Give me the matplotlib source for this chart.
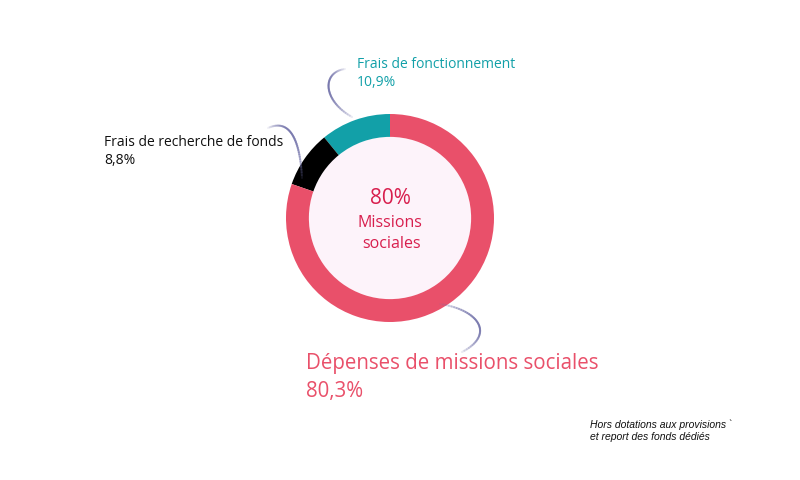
import matplotlib.pyplot as plt
from matplotlib.patches import Circle
import numpy as np

# share of expenses, drawn from 12 o'clock counter-clockwise
CATEGORIES = ["Frais de fonctionnement", "Frais de recherche de fonds", "Dépenses de missions sociales"]
SHARES = [10.9, 8.8, 80.3]
SHARE_LABELS = ["10,9%", "8,8%", "80,3%"]
COLORS = ["#12A0A8", "#000000", "#E9506A"]
CENTER_LINES = ["80%", "Missions", "sociales"]
NOTE = "Hors dotations aux provisions `\net report des fonds dédiés"

W, H = 800, 480
FONT = ["Open Sans", "DejaVu Sans"]


def py(y):
    # pixel row (top-down) to data y (bottom-up)
    return H - y


def connector(ax, pts):
    # cubic bezier with a soft fade along its length
    p0, p1, p2, p3 = [np.array([x, py(y)], dtype=float) for x, y in pts]
    t = np.linspace(0, 1, 40)[:, None]
    curve = (1 - t) ** 3 * p0 + 3 * (1 - t) ** 2 * t * p1 + 3 * (1 - t) * t ** 2 * p2 + t ** 3 * p3
    n = len(curve) - 1
    for i in range(n):
        a = 0.1 + 0.6 * np.sin(np.pi * i / n)
        ax.plot(curve[i:i + 2, 0], curve[i:i + 2, 1], color="#6F6FA8", lw=1.5,
                alpha=a, solid_capstyle="round", zorder=1)


fig = plt.figure(figsize=(W / 100, H / 100), dpi=100)
ax = fig.add_axes([0, 0, 1, 1])

cx, cy, r = 390, py(218), 104
ax.pie(SHARES, colors=COLORS, startangle=90, counterclock=True, center=(cx, cy),
       radius=r, wedgeprops=dict(width=r * 0.22, edgecolor="none"), frame=True)
ax.add_patch(Circle((cx, cy), r * 0.78, facecolor="#FDF3FA", edgecolor="none", zorder=0.5))
ax.set_xlim(0, W)
ax.set_ylim(0, H)
ax.set_aspect("equal")
ax.axis("off")

# centre text
ax.text(cx, py(198), CENTER_LINES[0], color="#D81E4D", fontsize=15, ha="center", va="center", family=FONT)
ax.text(cx, py(223), CENTER_LINES[1], color="#D81E4D", fontsize=11.5, ha="center", va="center", family=FONT)
ax.text(cx + 2, py(244), CENTER_LINES[2], color="#D81E4D", fontsize=11.5, ha="center", va="center", family=FONT)

# outer labels
ax.text(357, py(64), CATEGORIES[0], color=COLORS[0], fontsize=10, ha="left", va="center", family=FONT)
ax.text(357, py(82), SHARE_LABELS[0], color=COLORS[0], fontsize=10, ha="left", va="center", family=FONT)
ax.text(104, py(143), CATEGORIES[1], color="#111111", fontsize=10, ha="left", va="center", family=FONT)
ax.text(104, py(161), SHARE_LABELS[1], color="#111111", fontsize=10, ha="left", va="center", family=FONT)
ax.text(306, py(364), CATEGORIES[2], color=COLORS[2], fontsize=14.8, ha="left", va="center", family=FONT)
ax.text(306, py(391), SHARE_LABELS[2], color=COLORS[2], fontsize=14.8, ha="left", va="center", family=FONT)

ax.text(590, py(431), NOTE, color="#111111", fontsize=7.5, style="italic", ha="left", va="center",
        family=["Liberation Sans", "DejaVu Sans"], linespacing=1.3)

# connector curves
connector(ax, [(345, 69), (322, 72), (322, 100), (352, 117)])
connector(ax, [(268, 128), (290, 118), (300, 140), (302, 178)])
connector(ax, [(440, 304), (480, 310), (495, 335), (462, 352)])

fig.savefig("out.png", dpi=100)
